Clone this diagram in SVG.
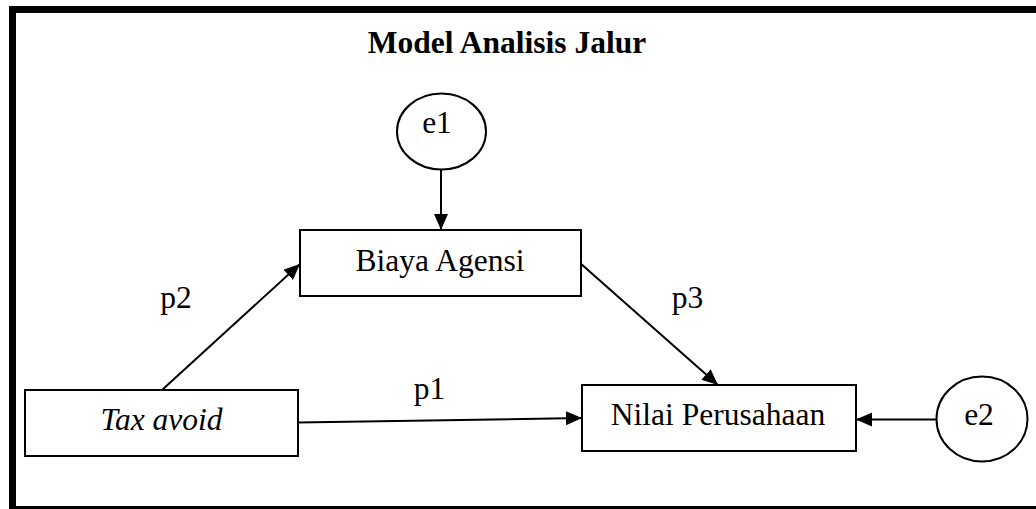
<svg xmlns="http://www.w3.org/2000/svg" width="1036" height="509" viewBox="0 0 1036 509">
<style>
.box{fill:#fff;stroke:#000;stroke-width:2}
.ell{fill:#fff;stroke:#000;stroke-width:2}
.t{font-family:"Liberation Serif","Times New Roman",serif;font-size:31.5px;fill:#000;text-anchor:middle}
.c{stroke:#000;stroke-width:2;fill:none;marker-end:url(#ah)}
</style>
<defs>
<marker id="ah" markerUnits="userSpaceOnUse" markerWidth="17" markerHeight="15" refX="16" refY="7" orient="auto">
<path d="M0,0 L16,7 L0,14 z" fill="#000"/>
</marker>
</defs>
<rect x="0" y="0" width="1036" height="509" fill="#fff"/>
<rect x="12.5" y="9.5" width="1100" height="500" fill="none" stroke="#000" stroke-width="7"/>
<text class="t" x="507" y="53" font-weight="bold" font-size="31">Model Analisis Jalur</text>
<g id="connectors">
<line class="c" x1="441" y1="170" x2="441" y2="230"/>
<line class="c" x1="162" y1="390" x2="300" y2="264"/>
<line class="c" x1="580" y1="263" x2="718" y2="385"/>
<line class="c" x1="298" y1="422.5" x2="582" y2="418"/>
<line class="c" x1="936" y1="419.5" x2="856" y2="419.5"/>
<text class="t" x="176" y="308">p2</text>
<text class="t" x="687.5" y="308">p3</text>
<text class="t" x="429.5" y="399">p1</text>
</g>
<g id="e1">
<ellipse class="ell" cx="441.5" cy="131.5" rx="44.5" ry="38"/>
<text class="t" x="437" y="133">e1</text>
</g>
<g id="e2">
<ellipse class="ell" cx="982" cy="419" rx="45.5" ry="42.5"/>
<text class="t" x="979" y="425">e2</text>
</g>
<g id="biaya">
<rect class="box" x="300" y="230" width="281" height="66"/>
<text class="t" x="440" y="271">Biaya Agensi</text>
</g>
<g id="tax">
<rect class="box" x="25" y="390" width="273" height="66"/>
<text class="t" x="161.5" y="430" font-style="italic">Tax avoid</text>
</g>
<g id="nilai">
<rect class="box" x="582" y="385" width="274" height="66"/>
<text class="t" x="718" y="425">Nilai Perusahaan</text>
</g>
</svg>
